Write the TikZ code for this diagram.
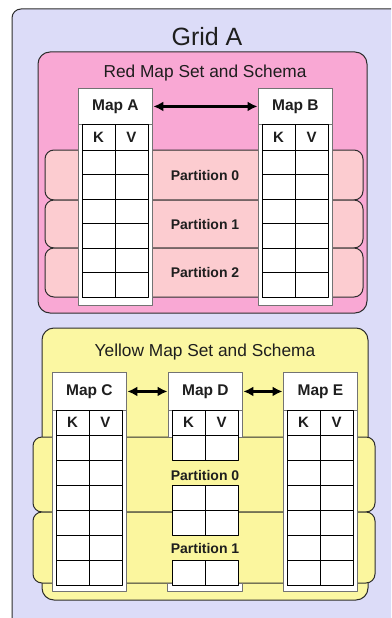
\documentclass[tikz,border=0pt]{standalone}
\usepackage{fontspec}
\setmainfont{Liberation Sans}
\usetikzlibrary{arrows.meta}
\definecolor{gridfill}{RGB}{220,220,248}
\definecolor{redset}{RGB}{249,168,212}
\definecolor{redband}{RGB}{252,204,208}
\definecolor{yelset}{RGB}{251,247,162}
\definecolor{yelband}{RGB}{251,246,158}
\definecolor{edge}{RGB}{45,45,45}
\definecolor{txt}{RGB}{30,30,30}
\tikzset{
  setbox/.style={draw=edge,line width=1pt,rounded corners=12pt},
  bandbox/.style={draw=edge,line width=1pt,rounded corners=9pt},
  frame/.style={draw=black!55,fill=white,line width=0.9pt},
  cell/.style={draw=black,line width=1pt},
  maphead/.style={draw=black!55,fill=white,line width=0.9pt,anchor=north west,inner sep=0pt,
     minimum width=74pt,font=\fontsize{15.5}{15.5}\selectfont\bfseries,text=txt},
  kvtext/.style={font=\fontsize{15}{15}\selectfont\bfseries,text=txt,inner sep=0pt},
  parttext/.style={font=\fontsize{14}{14}\selectfont\bfseries,text=txt,inner sep=0pt},
  titletext/.style={font=\fontsize{17.3}{17.3}\selectfont,text=txt,inner sep=0pt},
  link/.style={line width=2.3pt,black,{Latex[length=10pt,width=10pt]}-{Latex[length=10pt,width=10pt]},shorten <=0.5pt,shorten >=0.5pt}
}
% #1 name, #2 label, #3 left x, #4 top, #5 kv top, #6 rows top, #7 row height, #8 rows, #9 frame bottom
\newcommand\mapcol[9]{%
  \draw[frame] (#3,#4) rectangle ({#3+74},#9);
  \node[maphead,minimum height={(#5-#4)*1pt}] (#1) at (#3,#4) {#2};
  \draw[cell,fill=white] ({#3+4},#5) rectangle ({#3+70},{#6+#7*#8});
  \draw[cell] ({#3+37},#5) -- ({#3+37},{#6+#7*#8});
  \foreach \k in {0,...,#8}{\draw[cell] ({#3+4},{#6+#7*\k}) -- ({#3+70},{#6+#7*\k});}
  \node[kvtext] (#1K) at ({#3+20.5},{(#5+#6)/2}) {K};
  \node[kvtext] (#1V) at ({#3+53.5},{(#5+#6)/2}) {V};
}
\begin{document}
\begin{tikzpicture}[x=1pt,y=-1pt,line join=round]
\clip (0,0) rectangle (391,618);
\fill[white] (0,0) rectangle (391,618);
% grid
\draw[fill=gridfill,draw=edge,line width=1pt,rounded corners=9pt] (12,9) rectangle (430,660);
\node[font=\fontsize{25}{25}\selectfont,text=txt,inner sep=0pt] (gridA) at (207,37) {Grid A};
% ---------- red set ----------
\draw[setbox,fill=redset] (38,52) rectangle (367,313);
\node[titletext] (redtitle) at (205,73) {Red Map Set and Schema};
\draw[bandbox,fill=redband] (45,150) rectangle (363,200);
\draw[bandbox,fill=redband] (45,200) rectangle (363,248);
\draw[bandbox,fill=redband] (45,248) rectangle (363,297);
\mapcol{mapA}{Map A}{78}{88}{124}{150}{24.5}{6}{305}
\mapcol{mapB}{Map B}{258}{88}{124}{150}{24.5}{6}{305}
\node[parttext] (rp0) at (205,175) {Partition 0};
\node[parttext] (rp1) at (205,224) {Partition 1};
\node[parttext] (rp2) at (205,272) {Partition 2};
\draw[link] (mapA.east) -- (mapB.west);
% ---------- yellow set ----------
\draw[setbox,fill=yelset] (42,328) rectangle (368,600);
\node[titletext] (yeltitle) at (205,352) {Yellow Map Set and Schema};
\draw[bandbox,fill=yelband] (33,437) rectangle (375,512);
\draw[bandbox,fill=yelband] (33,512) rectangle (375,583);
\mapcol{mapC}{Map C}{52}{372}{410}{435}{25}{6}{591}
\mapcol{mapE}{Map E}{283}{372}{410}{435}{25}{6}{591}
% Map D (split)
\draw[frame] (168,372) rectangle (242,437);
\node[maphead,minimum height=38pt] (mapD) at (168,372) {Map D};
\draw[cell,fill=white] (172,410) rectangle (238,460);
\draw[cell] (172,435) -- (238,435);
\draw[cell] (205,410) -- (205,460);
\node[kvtext] (mapDK) at (188.5,422.5) {K};
\node[kvtext] (mapDV) at (221.5,422.5) {V};
\draw[cell,fill=white] (172,485) rectangle (238,535);
\draw[cell] (172,510) -- (238,510);
\draw[cell] (205,485) -- (205,535);
\draw[frame] (167,583) rectangle (242,591);
\draw[cell,fill=white] (172,560) rectangle (238,585);
\draw[cell] (205,560) -- (205,585);
\node[parttext] (yp0) at (205,475) {Partition 0};
\node[parttext] (yp1) at (205,548) {Partition 1};
\draw[link] (mapC.east) -- (mapD.west);
\draw[link] (mapD.east) -- (mapE.west);
\end{tikzpicture}
\end{document}
